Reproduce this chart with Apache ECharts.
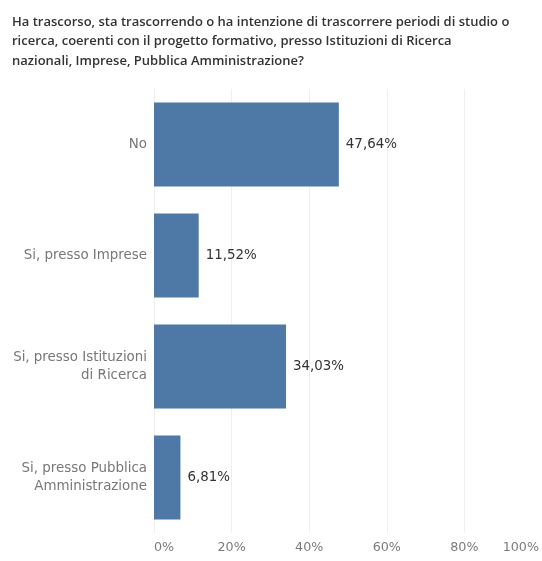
<!DOCTYPE html>
<html>
<head>
<meta charset="utf-8">
<script src="https://cdn.jsdelivr.net/npm/echarts@6/dist/echarts.min.js"></script>
<style>
html,body{margin:0;padding:0;background:#fff;}
#c{width:542px;height:561px;}
</style>
</head>
<body>
<div id="c"></div>
<script>
const titleText = "Ha trascorso, sta trascorrendo o ha intenzione di trascorrere periodi di studio o\nricerca, coerenti con il progetto formativo, presso Istituzioni di Ricerca\nnazionali, Imprese, Pubblica Amministrazione?";
const categories = ["No", "Si, presso Imprese", "Si, presso Istituzioni\ndi Ricerca", "Si, presso Pubblica\nAmministrazione"];
const values = [47.64, 11.52, 34.03, 6.81];
const xTicks = [0, 20, 40, 60, 80, 100];

const chart = echarts.init(document.getElementById('c'));
chart.setOption({
  animation: false,
  title: {
    text: titleText,
    left: 12,
    top: 12,
    padding: 0,
    textStyle: {
      fontFamily: 'Open Sans',
      fontSize: 13,
      fontWeight: 600,
      color: '#333',
      lineHeight: 19.7
    }
  },
  grid: {
    left: 154,
    right: -3,
    top: 89,
    bottom: 28,
    containLabel: false
  },
  xAxis: {
    type: 'value',
    min: xTicks[0],
    max: xTicks[xTicks.length - 1],
    interval: 20,
    axisLine: {show: false},
    axisTick: {show: false},
    splitLine: {show: true, lineStyle: {color: '#efefef', width: 1}},
    axisLabel: {
      margin: 8,
      fontFamily: 'DejaVu Sans',
      fontSize: 12.7,
      color: '#7a7a7a',
      alignMinLabel: 'left',
      alignMaxLabel: 'right',
      formatter: function (v) {
        return v === 100 ? '{p|' + v + '%}' : v + '%';
      },
      rich: {
        p: {fontFamily: 'DejaVu Sans', fontSize: 12.7, color: '#7a7a7a', padding: [0, 3, 0, 0]}
      }
    }
  },
  yAxis: {
    type: 'category',
    inverse: true,
    data: categories,
    axisLine: {show: true, onZero: false, lineStyle: {color: '#efefef'}},
    axisTick: {show: false},
    axisLabel: {
      margin: 7,
      fontFamily: 'DejaVu Sans',
      fontSize: 13.4,
      color: '#777',
      lineHeight: 18,
      align: 'right'
    }
  },
  series: [{
    type: 'bar',
    data: values,
    barWidth: 84,
    itemStyle: {color: '#4e79a7'},
    label: {
      show: true,
      position: 'right',
      distance: 7,
      fontFamily: 'DejaVu Sans',
      fontSize: 13.4,
      color: '#333',
      formatter: function (p) {
        return p.value.toFixed(2).replace('.', ',') + '%';
      }
    }
  }]
});
</script>
</body>
</html>
